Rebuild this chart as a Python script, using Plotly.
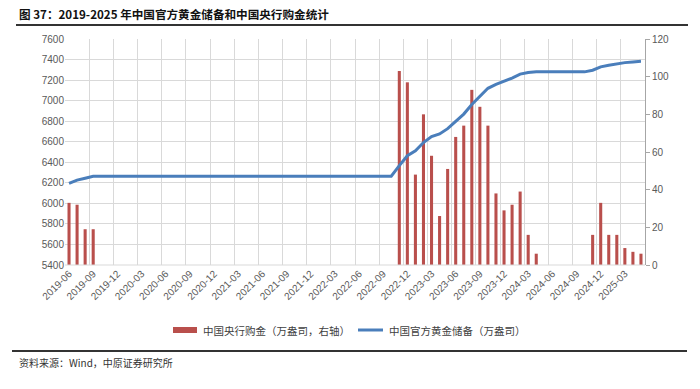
import plotly.graph_objects as go

# ---- data ----
months = []
for y in range(2019, 2026):
    for m in range(1, 13):
        s = f"{y}-{m:02d}"
        if "2019-06" <= s <= "2025-05":
            months.append(s)

reserves = [6194, 6226, 6245, 6264] + [6264] * 37 + [
    6367, 6464, 6512, 6592, 6650, 6676, 6727, 6795, 6869, 6962, 7046, 7120,
    7158, 7187, 7219, 7258, 7274, 7280, 7280, 7280, 7280, 7280, 7280, 7280,
    7296, 7329, 7345, 7361, 7370, 7377, 7383]

purchases = [33, 32, 19, 19] + [0] * 37 + [
    103, 97, 48, 80, 58, 26, 51, 68, 74, 93, 84, 74,
    38, 29, 32, 39, 16, 6, 0, 0, 0, 0, 0, 0,
    16, 33, 16, 16, 9, 7, 6]

bar_name = "中国央行购金（万盎司，右轴）"
line_name = "中国官方黄金储备（万盎司）"
title_text = "图 37：2019-2025 年中国官方黄金储备和中国央行购金统计"
source_text = "资料来源：Wind，中原证券研究所"

BAR_COLOR = "#B94F4C"
LINE_COLOR = "#4A7EBB"

# ---- layout geometry (screen pixels) ----
W, H = 700, 389
L, R, T, B = 65, 645, 39, 265   # plot area
pw, ph = R - L, B - T


def px(x):
    return (x - L) / pw


def py(y):
    return (B - y) / ph


tick_font = dict(family="Liberation Sans, Arial, sans-serif", size=10, color="#595959")
cjk = "Noto Sans CJK SC"

fig = go.Figure()
fig.add_trace(go.Bar(
    x=months, y=purchases, name=bar_name, yaxis="y",
    marker=dict(color=BAR_COLOR, line=dict(width=0)), width=0.38,
))
fig.add_trace(go.Scatter(
    x=months, y=reserves, name=line_name, yaxis="y2", mode="lines",
    line=dict(color=LINE_COLOR, width=3),
))

fig.update_layout(
    width=W, height=H,
    margin=dict(l=L, r=W - R, t=T, b=H - B, autoexpand=False),
    paper_bgcolor="white", plot_bgcolor="white",
    showlegend=False,
    hovermode=False,
    xaxis=dict(type="category", tickmode="linear", tick0=0, dtick=3,
               tickson="boundaries", showgrid=True, gridcolor="#D9D9D9", gridwidth=1,
               tickangle=-45, tickfont=tick_font, ticks="", showline=False,
               range=[-0.5, len(months) - 0.5], zeroline=False),
    yaxis=dict(side="right", range=[0, 120], dtick=20, showgrid=False,
               showline=True, linecolor="#A6A6A6", ticks="outside", ticklen=4,
               tickcolor="#A6A6A6", tickfont=tick_font, zeroline=False),
    yaxis2=dict(side="left", overlaying="y", range=[5400, 7600], dtick=200,
                showgrid=True, gridcolor="#D9D9D9", gridwidth=1, showline=False,
                ticks="", tickfont=tick_font, zeroline=False),
    shapes=[
        dict(type="line", xref="paper", yref="paper", x0=px(16), x1=px(688),
             y0=py(25), y1=py(25), line=dict(color="#333333", width=2)),
        dict(type="line", xref="paper", yref="paper", x0=px(12), x1=px(687),
             y0=py(351), y1=py(351), line=dict(color="#333333", width=2)),
        dict(type="line", xref="paper", yref="paper", x0=0, x1=1,
             y0=0, y1=0, line=dict(color="#D9D9D9", width=1)),
        dict(type="rect", xref="paper", yref="paper", x0=px(173), x1=px(197),
             y0=py(333), y1=py(327), fillcolor=BAR_COLOR, line=dict(width=0)),
        dict(type="line", xref="paper", yref="paper", x0=px(358), x1=px(383),
             y0=py(330), y1=py(330), line=dict(color=LINE_COLOR, width=3)),
    ],
    annotations=[
        dict(text="<b>" + title_text + "</b>", xref="paper", yref="paper",
             x=px(17), y=py(14), xanchor="left", yanchor="middle", showarrow=False,
             font=dict(family=cjk, size=11.6, color="#111111")),
        dict(text=bar_name, xref="paper", yref="paper", x=px(201), y=py(330),
             xanchor="left", yanchor="middle", showarrow=False,
             font=dict(family=cjk, size=10.5, color="#404040")),
        dict(text=line_name, xref="paper", yref="paper", x=px(387), y=py(330),
             xanchor="left", yanchor="middle", showarrow=False,
             font=dict(family=cjk, size=10.5, color="#404040")),
        dict(text=source_text, xref="paper", yref="paper", x=px(17), y=py(362),
             xanchor="left", yanchor="middle", showarrow=False,
             font=dict(family=cjk, size=10, color="#333333")),
    ],
)

# no mode bar; remove the browser's default 8px body margin so the figure sits at (0, 0)
fig.write_html("out.html", config={"displayModeBar": False},
               post_script="document.body.style.margin='0';")
